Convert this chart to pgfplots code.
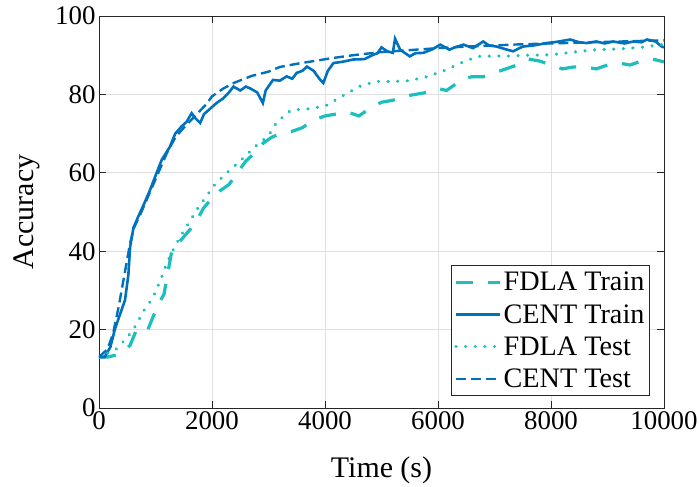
\documentclass[border=0pt]{standalone}
\usepackage{pgfplots}
\pgfplotsset{compat=1.18}
\usepackage{fontspec}
\setmainfont{Liberation Serif}
\definecolor{centblue}{RGB}{0,114,189}
\definecolor{fdlateal}{RGB}{28,190,190}
\definecolor{axgray}{RGB}{38,38,38}
\begin{document}
\begin{tikzpicture}
\path[use as bounding box] (-99bp,-79bp) rectangle (600bp,408bp);
\begin{axis}[
  at={(0,0)}, anchor=south west,
  scale only axis, width=565bp, height=392bp,
  xmin=0, xmax=10000, ymin=0, ymax=100,
  xtick={0,2000,4000,6000,8000,10000},
  ytick={0,20,40,60,80,100},
  scaled x ticks=false,
  xticklabel style={/pgf/number format/fixed,/pgf/number format/1000 sep={}},
  /pgf/number format/assume math mode=true,
  tick label style={font=\fontsize{27}{30}\selectfont},
  label style={font=\fontsize{30}{34}\selectfont},
  xlabel={Time (s)}, ylabel={Accuracy},
  xlabel style={yshift=-20bp},
  ylabel style={yshift=8bp},
  grid=major, grid style={color=black!12, line width=0.8bp},
  axis line style={color=axgray, line width=0.9bp},
  tick style={color=axgray, line width=0.9bp},
  tick align=inside, major tick length=7bp,
  legend cell align=left,
  legend style={at={(0.975,0.03)}, anchor=south east, draw=axgray, line width=0.9bp,
    font=\fontsize{28.3}{31}\selectfont, row sep=8bp, inner xsep=3bp, inner ysep=5bp,
    nodes={inner xsep=2bp}},
  legend image code/.code={\draw[#1] (0bp,0bp) -- (44bp,0bp);},
]
\addplot[color=fdlateal, line width=3.2bp, dash pattern=on 17bp off 15bp] coordinates {
(0,13)(150,13)(300,13.5)(450,14.5)(550,16)(650,19.5)(750,20)(850,19.5)(950,23)(1050,26.5)(1150,29)(1250,37)(1300,41)(1400,42)(1550,44.5)(1700,47)(1850,51)(2000,53.5)(2150,55.5)(2300,57)(2450,60)(2600,63)(2750,65)(2900,67.5)(3050,69)(3200,70)(3400,70.5)(3600,71.5)(3800,73.5)(4000,74.5)(4200,75)(4400,75.5)(4600,74.5)(4800,76.5)(5000,78)(5200,78.5)(5400,79.5)(5600,80)(5800,80.5)(6000,81.5)(6150,81)(6300,82.5)(6450,84)(6600,84.5)(6800,84.5)(7000,85.5)(7200,86.5)(7400,87.5)(7600,89)(7800,88.5)(8000,87.5)(8200,86.5)(8400,87)(8600,87)(8800,86.5)(9000,87.5)(9200,88)(9400,87.5)(9600,88.5)(9800,89)(10000,88.3)
};
\addlegendentry{FDLA Train}
\addplot[color=centblue, line width=2.6bp] coordinates {
(0,13)(100,13)(200,15.5)(280,20)(350,23)(460,27.5)(520,34)(550,41)(610,46)(700,49)(780,51.5)(900,55.5)(1020,60)(1110,63.3)(1250,66.5)(1350,70)(1460,71.8)(1550,73)(1640,75.2)(1700,74)(1790,72.7)(1860,75)(1940,76)(2080,77.8)(2200,79)(2300,80.5)(2380,82)(2500,81)(2600,82)(2680,81.5)(2800,80.5)(2900,77.8)(2950,81)(3080,83.7)(3200,83.5)(3320,84.6)(3420,84)(3500,85.5)(3600,86)(3680,87.1)(3800,86)(3900,84)(3970,82.9)(4050,86)(4150,88)(4300,88.3)(4500,88.9)(4700,89)(4850,90.1)(4930,90.5)(5000,92)(5100,91)(5200,90.6)(5240,94.2)(5330,91.4)(5500,89.7)(5600,90.5)(5740,90.6)(5900,91.5)(6040,92.7)(6200,91.4)(6300,92)(6450,92.7)(6620,91.8)(6800,93.5)(6900,92.5)(7040,92.2)(7200,91.5)(7330,91)(7500,92.2)(7700,92.5)(7920,93.1)(8100,93.4)(8340,94)(8500,93.3)(8630,93.1)(8800,93.5)(8950,93)(9100,93.5)(9300,93)(9460,93.5)(9600,93.3)(9700,94)(9850,93.5)(9960,92.2)(10000,92)
};
\addlegendentry{CENT Train}
\addplot[color=fdlateal, line width=3.4bp, line cap=round, dash pattern=on 0.1bp off 9.5bp] coordinates {
(0,13)(300,15)(500,18)(650,21)(800,25)(950,28)(1100,33)(1200,37)(1300,40)(1450,44)(1600,47.5)(1750,51)(1900,54)(2050,57)(2300,60.5)(2500,63)(2750,66.5)(3000,69.5)(3150,73)(3400,76)(3700,76.3)(4000,77)(4300,79.5)(4600,82)(4900,83.3)(5200,83.3)(5500,83.5)(5800,84.5)(6100,86)(6400,88)(6700,89.7)(7000,89.8)(7300,89.8)(7600,90)(8000,90.1)(8400,90.8)(8800,91.4)(9200,91.6)(9600,92)(10000,92.8)
};
\addlegendentry{FDLA Test}
\addplot[color=centblue, line width=2.4bp, dash pattern=on 10bp off 5bp] coordinates {
(0,13)(150,15)(250,19)(350,26)(450,34)(550,42)(620,46)(750,50)(900,55)(1050,60)(1200,65)(1350,69)(1500,71.5)(1700,74.5)(1900,77.5)(2000,79.5)(2200,81.5)(2400,83)(2700,84.7)(3000,85.8)(3200,87)(3500,87.8)(3800,88.5)(4100,89.2)(4500,90)(5000,90.8)(5500,91.3)(6000,91.8)(6500,92.2)(7000,92.5)(7500,92.8)(8000,93)(8500,93.2)(9000,93.4)(9500,93.6)(10000,93.8)
};
\addlegendentry{CENT Test}
\end{axis}
\end{tikzpicture}
\end{document}
